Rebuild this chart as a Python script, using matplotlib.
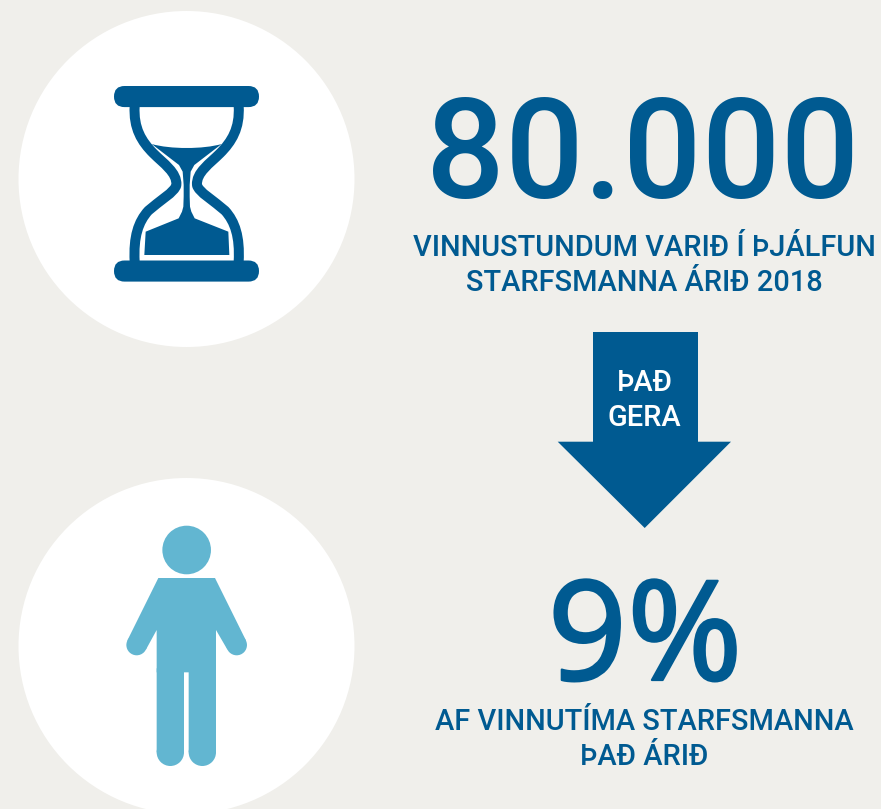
import matplotlib
matplotlib.use('Agg')
import matplotlib.pyplot as plt
import matplotlib.patheffects as pe
from matplotlib.patches import Circle, FancyBboxPatch, PathPatch, Polygon, Rectangle
from matplotlib.path import Path

BG = '#f0efeb'
BLUE = '#005a91'
LIGHT = '#62b6d1'
WHITE = '#ffffff'

big_number = '80.000'
big_label = ['VINNUSTUNDUM VARIÐ Í ÞJÁLFUN', 'STARFSMANNA ÁRIÐ 2018']
arrow_label = ['ÞAÐ', 'GERA']
share_number = '9%'
share_label = ['AF VINNUTÍMA STARFSMANNA', 'ÞAÐ ÁRIÐ']

plt.rcParams['font.family'] = ['Roboto', 'DejaVu Sans']
plt.rcParams['font.weight'] = 'medium'

W, H = 881, 809
fig = plt.figure(figsize=(W / 100, H / 100), dpi=100, facecolor=BG)
ax = fig.add_axes([0, 0, 1, 1])
ax.set_xlim(0, W)
ax.set_ylim(H, 0)
ax.axis('off')


def zoomed(pts, x0, y0):
    return [(x0 + x / 3, y0 + y / 3) for x, y in pts]


def bezier(start, segments, x0, y0):
    verts = [start]
    codes = [Path.MOVETO]
    for seg in segments:
        verts += seg
        codes += [Path.CURVE4] * 3
    return Path(zoomed(verts, x0, y0), codes)


# circles
ax.add_patch(Circle((186.5, 179), 168, fc=WHITE, ec='none'))
ax.add_patch(Circle((186.5, 646), 168, fc=WHITE, ec='none'))

# hourglass bars
for y in (86, 260.5):
    ax.add_patch(FancyBboxPatch((114 + 10.5, y + 10.5), 145 - 21, 0.1,
                                boxstyle='round,pad=10.5,rounding_size=10.5',
                                fc=BLUE, ec='none'))

# hourglass walls
left_wall = [
    [(100, 175), (125, 215), (160, 250)],
    [(190, 280), (232, 308), (229, 345)],
    [(226, 365), (175, 395), (145, 422)],
    [(115, 455), (100, 500), (104, 575)],
]
right_wall = [[(520 - x, y) for x, y in seg] for seg in left_wall]
for wall in (left_wall, right_wall):
    start = (104, 108) if wall is left_wall else (416, 108)
    ax.add_patch(PathPatch(bezier(start, wall, 100, 70), fc='none', ec=BLUE,
                           lw=7.2, capstyle='butt', joinstyle='round'))

# sand
sand = [(155, 222), (210, 238), (310, 238), (365, 222),
        (283, 285), (272, 305), (269, 345), (269, 380), (270, 410), (274, 425),
        (284, 445), (385, 485), (388, 555), (133, 555), (137, 485),
        (236, 445), (246, 425), (250, 410), (251, 380), (251, 345),
        (248, 305), (237, 285)]
sand_codes = ([Path.MOVETO] + [Path.CURVE4] * 3 + [Path.LINETO] * 18)
ax.add_patch(PathPatch(Path(zoomed(sand, 100, 70), sand_codes), fc=BLUE, ec='none'))

# person
x0, y0 = 110, 510
cx, cy = zoomed([(230, 120)], x0, y0)[0]
ax.add_patch(Circle((cx, cy), 24.3, fc=LIGHT, ec='none'))
torso = [(145, 204), (315, 204), (408, 391.5), (352, 418.5), (318, 360), (318, 487),
         (236, 487), (222, 487), (140, 487), (140, 360), (108, 418.5), (52, 391.5)]
ax.add_patch(Polygon(zoomed(torso, x0, y0), closed=True, fc=LIGHT, ec='none'))
for hx, hy in [(80, 405), (380, 405)]:
    px, py = zoomed([(hx, hy)], x0, y0)[0]
    ax.add_patch(Circle((px, py), 10.3, fc=LIGHT, ec='none'))
for lx, rx in [(140, 222), (236, 318)]:
    px, py = zoomed([(lx, 487)], x0, y0)[0]
    w = (rx - lx) / 3
    # legs start a little inside the torso so no seam shows
    ax.add_patch(Rectangle((px, py - 4), w, (727 - 487) / 3 + 4, fc=LIGHT, ec='none', snap=False))
    ax.add_patch(Circle((px + w / 2, y0 + 727 / 3), w / 2, fc=LIGHT, ec='none'))

# arrow
arrow = [(593, 332), (698, 332), (698, 441.7), (731, 441.7), (644.7, 528),
         (557.7, 441.7), (593, 441.7)]
ax.add_patch(Polygon(arrow, closed=True, fc=BLUE, ec='none'))

# text
ax.text(643, 198, big_number, color=BLUE, fontsize=100, ha='center', va='baseline')
ax.text(644.5, 256, big_label[0], color=BLUE, fontsize=20.9, ha='center', va='baseline')
ax.text(644.5, 291, big_label[1], color=BLUE, fontsize=20.9, ha='center', va='baseline')
ax.text(644.5, 391, arrow_label[0], color=WHITE, fontsize=20.9, ha='center', va='baseline')
ax.text(644.5, 426, arrow_label[1], color=WHITE, fontsize=20.9, ha='center', va='baseline')
ax.text(645, 680, share_number, color=BLUE, fontsize=100, ha='center', va='baseline',
        family=['Noto Sans', 'DejaVu Sans'],
        path_effects=[pe.withStroke(linewidth=1.6, foreground=BLUE)])
ax.text(644.5, 730, share_label[0], color=BLUE, fontsize=20.9, ha='center', va='baseline')
ax.text(644.5, 765, share_label[1], color=BLUE, fontsize=20.9, ha='center', va='baseline')

fig.savefig('out.png', dpi=100, facecolor=BG)
plt.close(fig)
